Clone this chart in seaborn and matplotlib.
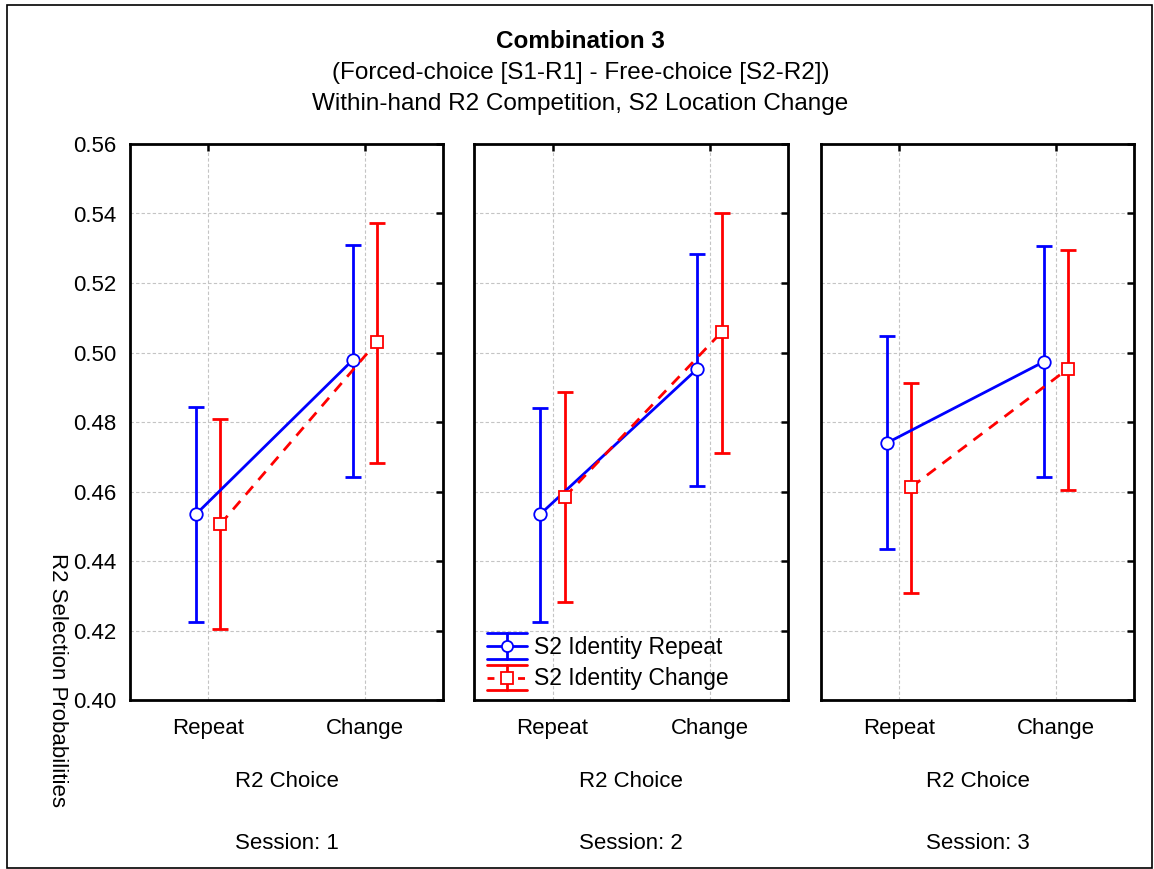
import numpy as np
import pandas as pd
import matplotlib
matplotlib.use("Agg")
import matplotlib.pyplot as plt
import seaborn as sns
from matplotlib.lines import Line2D
from matplotlib.patches import Rectangle
from matplotlib.legend_handler import HandlerBase

# ---------------- data ----------------
sessions = ["1", "2", "3"]
choices = ["Repeat", "Change"]
identities = ["S2 Identity  Repeat", "S2 Identity  Change"]

# means per session: [Repeat, Change]
repeat_mean = {"1": [0.4535, 0.4978], "2": [0.4535, 0.4953], "3": [0.4740, 0.4973]}
repeat_lo = {"1": [0.4224, 0.4642], "2": [0.4224, 0.4616], "3": [0.4435, 0.4642]}
repeat_hi = {"1": [0.4843, 0.5309], "2": [0.4840, 0.5283], "3": [0.5047, 0.5306]}

change_mean = {"1": [0.4506, 0.5030], "2": [0.4584, 0.5059], "3": [0.4613, 0.4953]}
change_lo = {"1": [0.4204, 0.4682], "2": [0.4282, 0.4711], "3": [0.4308, 0.4604]}
change_hi = {"1": [0.4809, 0.5373], "2": [0.4886, 0.5401], "3": [0.4912, 0.5295]}

yticks = [0.40, 0.42, 0.44, 0.46, 0.48, 0.50, 0.52, 0.54, 0.56]

rows = []
for s in sessions:
    for i, c in enumerate(choices):
        rows.append(dict(session=s, choice=c, identity=identities[0],
                         mean=repeat_mean[s][i], lo=repeat_lo[s][i], hi=repeat_hi[s][i]))
        rows.append(dict(session=s, choice=c, identity=identities[1],
                         mean=change_mean[s][i], lo=change_lo[s][i], hi=change_hi[s][i]))
df = pd.DataFrame(rows)

# ---------------- style ----------------
sns.set_style("white")
plt.rcParams["font.family"] = ["Liberation Sans", "DejaVu Sans"]
plt.rcParams["text.color"] = "black"
plt.rcParams["axes.labelcolor"] = "black"
FS = 16
FS_T = 17.5
FS_L = 16.5
BLUE = "#0000FF"
RED = "#FF0000"
colors = {identities[0]: BLUE, identities[1]: RED}
dash_style = (0, (4, 3))

fig = plt.figure(figsize=(11.54, 8.69), dpi=100)

W, H = 1154, 869
panel_px = [(130, 443), (474, 788), (821, 1134)]
top_px, bot_px = 144, 700

axes = []
for k, s in enumerate(sessions):
    l, r = panel_px[k]
    ax = fig.add_axes([l / W, 1 - bot_px / H, (r - l) / W, (bot_px - top_px) / H])
    axes.append(ax)
    sub = df[df.session == s]
    sns.pointplot(data=sub, x="choice", y="mean", hue="identity",
                  order=choices, hue_order=identities,
                  palette=[BLUE, RED], markers=["o", "s"],
                  linestyles=["-", dash_style], dodge=0.155,
                  errorbar=None, ax=ax, markersize=9,
                  markerfacecolor="white", markeredgewidth=1.3,
                  linewidth=2.0, zorder=3, legend=False)
    # error bars at the positions seaborn used
    for line in list(ax.lines):
        col = matplotlib.colors.to_hex(line.get_color()).upper()
        ident = identities[0] if col == BLUE.upper() else identities[1]
        d = sub[sub.identity == ident].set_index("choice").loc[choices]
        xs = line.get_xdata()
        ys = d["mean"].values
        yerr = [ys - d["lo"].values, d["hi"].values - ys]
        ax.errorbar(xs, ys, yerr=yerr, fmt="none", ecolor=colors[ident],
                    elinewidth=2.0, capsize=5.5, capthick=2.0, zorder=2)

    ax.set_xlim(-0.5, 1.5)
    ax.set_ylim(0.40, 0.56)
    ax.set_yticks(yticks)
    ax.set_yticklabels([f"{v:.2f}" for v in yticks])
    ax.set_xlabel("")
    ax.set_ylabel("")
    ax.grid(True, color="#c4c4c4", linestyle=(0, (3, 2)), linewidth=0.8)
    ax.set_axisbelow(True)
    for sp in ax.spines.values():
        sp.set_visible(True)
        sp.set_color("black")
        sp.set_linewidth(2.0)
    ax.tick_params(direction="in", length=5, width=1.8, top=True, right=True,
                   labelsize=FS, colors="black", pad=13)
    ax.tick_params(axis="y", pad=10)
    if k > 0:
        ax.tick_params(labelleft=False)
    ax.text(0.5, -0.146, "R2 Choice", transform=ax.transAxes, ha="center",
            va="center", fontsize=FS)
    ax.text(0.5, -0.258, f"Session: {s}", transform=ax.transAxes, ha="center",
            va="center", fontsize=FS)


# ---------------- legend ----------------
class ErrHandler(HandlerBase):
    def __init__(self, color, marker, ls):
        super().__init__()
        self.color = color
        self.marker = marker
        self.ls = ls

    def create_artists(self, legend, orig_handle, xdescent, ydescent, width,
                       height, fontsize, trans):
        x0, x1 = -xdescent, width - xdescent
        xm = (x0 + x1) / 2
        yc = height / 2 - ydescent
        cap = 9.3
        arts = []
        for dy in (cap, -cap):
            arts.append(Line2D([x0, x1], [yc + dy, yc + dy], color=self.color, lw=2.0))
        arts.append(Line2D([xm, xm], [yc - cap, yc + cap], color=self.color, lw=2.0))
        arts.append(Line2D([x0, x1], [yc, yc], color=self.color, lw=2.0,
                           linestyle=self.ls))
        arts.append(Line2D([xm], [yc], marker=self.marker, markersize=8,
                           markerfacecolor="white", markeredgecolor=self.color,
                           markeredgewidth=1.3, linestyle="none"))
        for a in arts:
            a.set_transform(trans)
        return arts


ax2 = axes[1]
h_blue = Line2D([], [], color=BLUE)
h_red = Line2D([], [], color=RED)
leg = ax2.legend([h_blue, h_red], ["S2 Identity Repeat", "S2 Identity Change"],
                 handler_map={h_blue: ErrHandler(BLUE, "o", "-"),
                              h_red: ErrHandler(RED, "s", (0, (2.5, 3)))},
                 loc="upper left", bbox_to_anchor=(0.04, 0.116),
                 frameon=False, fontsize=FS_L, borderpad=0, borderaxespad=0,
                 handlelength=1.75, handleheight=1.0, handletextpad=0.3,
                 labelspacing=0.38)

# ---------------- titles / labels ----------------
fig.text(0.503, 1 - 42 / H, "Combination 3", ha="center", va="center",
         fontsize=FS_T, fontweight="bold")
fig.text(0.503, 1 - 73 / H, "(Forced-choice [S1-R1] - Free-choice [S2-R2])",
         ha="center", va="center", fontsize=FS_T)
fig.text(0.503, 1 - 104 / H, "Within-hand R2 Competition, S2 Location Change",
         ha="center", va="center", fontsize=FS_T)
fig.text(57 / W, 1 - 680 / H, "R2 Selection Probabilities", rotation=270,
         ha="center", va="center", fontsize=FS)

fig.patches.append(Rectangle((7 / W, 1 - 868 / H), (1152 - 7) / W, (868 - 5) / H,
                             transform=fig.transFigure, fill=False,
                             edgecolor="black", linewidth=1.2, zorder=0))

fig.savefig("out.png", dpi=100)
